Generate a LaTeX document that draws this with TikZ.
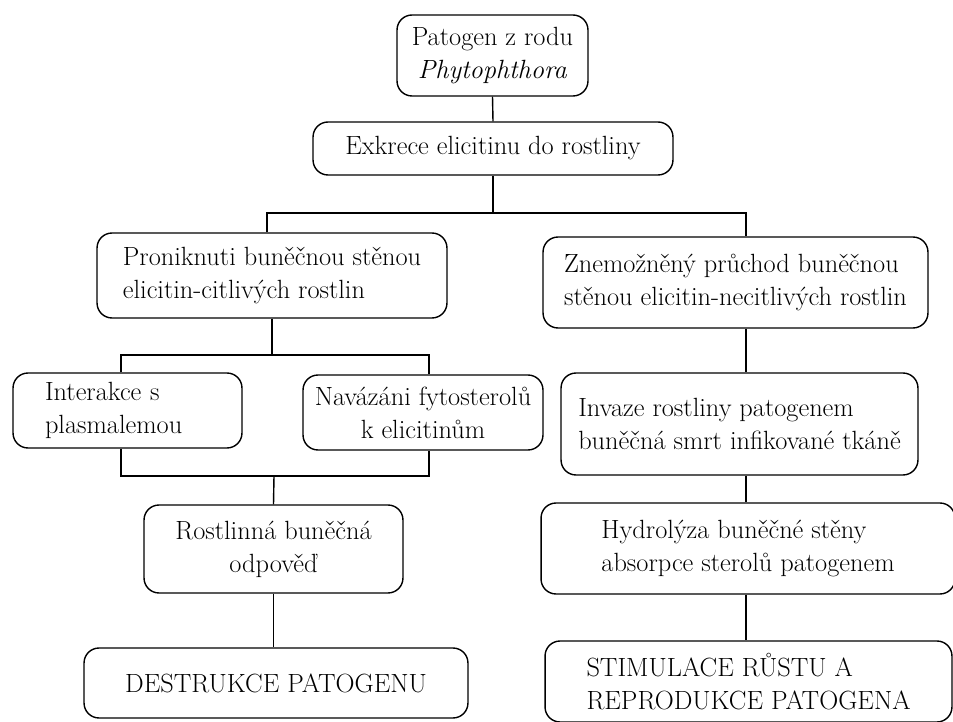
\documentclass[tikz,border=0pt]{standalone}
\usepackage{fontspec}
\begin{document}
\begin{tikzpicture}[x=0.02cm, y=-0.02cm, line width=0.8pt, font=\fontsize{15}{18.8}\selectfont,
  box/.style={draw, rounded corners=0.3cm, inner sep=0pt, align=center},
  lbox/.style={box, align=left}]
\useasboundingbox (0,0) rectangle (953,722);
% top of the tree
\node[box, minimum width=3.82cm, minimum height=1.62cm] (pat) at (492.5,55.5) {Patogen z rodu\\\textit{Phytophthora}};
\node[box, minimum width=7.2cm, minimum height=1.06cm] (exk) at (493,148.5) {Exkrece elicitinu do rostliny};
% left branch
\node[lbox, minimum width=7.0cm, minimum height=1.7cm] (pro) at (272,275.5) {Proniknuti buněčnou stěnou\\elicitin-citlivých rostlin};
\node[lbox, minimum width=4.58cm, minimum height=1.5cm, inner xsep=0.64cm, text width=3.3cm] (int) at (127.5,410.5) {Interakce s\\plasmalemou};
\node[box, minimum width=4.8cm, minimum height=1.5cm] (nav) at (423,412.5) {Navázáni fytosterolů\\k elicitinům};
\node[box, minimum width=5.18cm, minimum height=1.76cm] (ros) at (273.5,549) {Rostlinná buněčná\\odpověď};
\node[box, minimum width=7.68cm, minimum height=1.4cm] (des) at (276,683) {DESTRUKCE PATOGENU};
% right branch
\node[lbox, minimum width=7.7cm, minimum height=1.82cm] (zne) at (735.5,282.5) {Znemožněný průchod buněčnou\\stěnou elicitin-necitlivých rostlin};
\node[lbox, minimum width=7.14cm, minimum height=2.04cm] (inv) at (739.5,424) {Invaze rostliny patogenem\\buněčná smrt infikované tkáně};
\node[lbox, minimum width=8.28cm, minimum height=1.82cm] (hyd) at (748,548.5) {Hydrolýza buněčné stěny\\absorpce sterolů patogenem};
\node[lbox, minimum width=8.14cm, minimum height=1.62cm] (sti) at (748.5,681.5) {STIMULACE RŮSTU A\\REPRODUKCE PATOGENA};
% connectors
\coordinate (s1) at (493,213);
\coordinate (s2) at (272,355);
\coordinate (s3) at (274,476);
\coordinate (rx) at (746,0);
\draw (pat.south) -- (exk.north);
\draw (exk.south) -- (s1);
\draw ([xshift=-0.1cm]pro.north) |- (s1) -| (zne.north -| rx);
\draw (pro.south) -- (s2);
\draw ([xshift=-0.13cm]int.north) |- (s2) -| ([xshift=0.12cm]nav.north);
\draw ([xshift=-0.13cm]int.south) |- (s3) -| ([xshift=0.12cm]nav.south);
\draw (s3) -- (ros.north);
\draw (ros.south) -- (ros.south |- des.north);
\foreach \a/\b in {zne/inv, inv/hyd, hyd/sti}
  \draw (\a.south -| rx) -- (\b.north -| rx);
\end{tikzpicture}
\end{document}
